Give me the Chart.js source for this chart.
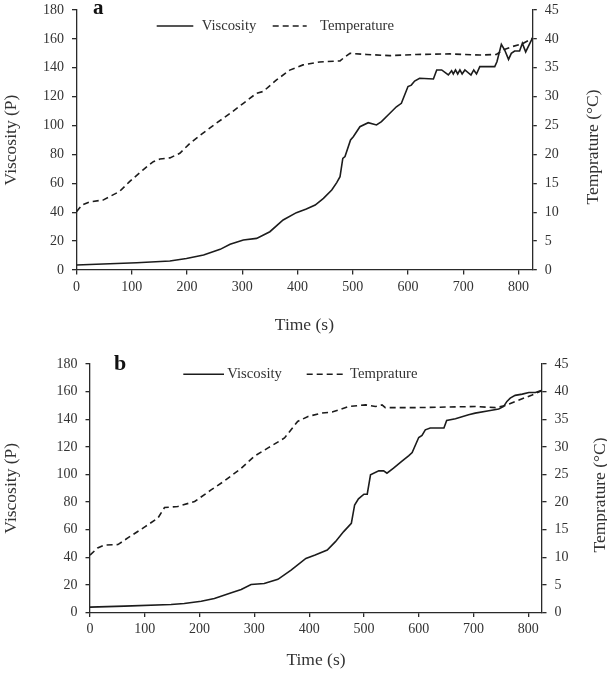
<!DOCTYPE html>
<html><head><meta charset="utf-8">
<script src="https://cdn.jsdelivr.net/npm/chart.js@4.4.1/dist/chart.umd.min.js"></script>
<style>html,body{margin:0;padding:0;background:#fff;overflow:hidden;width:607px;height:674px}
canvas{position:absolute;left:0}</style></head>
<body>
<canvas id="ca" width="607" height="348" style="top:-8px;width:607px;height:348px"></canvas>
<canvas id="cb" width="607" height="334" style="top:340px;width:607px;height:334px"></canvas>
<script>
// ---- Data ----
const timeViscA = [0,48,109,169,199,230,260,278,302,326,350,374,398,416,432,447,462,471,477,482,486,496,501,513,528,543,552,564,579,588,600,606,612,621,646,652,661,673,679,682,686,690,694,698,703,714,719,724,730,757,761,769,775,782,787,793,802,807,813,825];
const viscA = [3.5,4.2,5,6.2,8,10.4,14.3,17.8,20.8,21.9,26.5,34.6,39.7,42.2,45,49.6,55.4,60.5,64.6,77.3,78.5,90,92.3,99.2,102,100.4,102.7,107.3,113,115.4,127,128,130.8,132.7,132.2,138.5,138.5,135,138,135.7,138.5,135.7,138.5,135.7,138.5,135,138.5,135.7,140.8,140.8,144.2,156.2,152.3,145.8,150,151.6,151.6,157,151,160.4];
const timeTempA = [0,10,24,48,78,96,120,139,151,169,187,205,229,253,278,302,326,338,362,386,410,440,477,486,495,525,567,615,676,730,760,772,790,808,825];
const tempA = [10.1,11.25,11.8,12.1,13.6,15.3,17.3,18.75,19.2,19.4,20.2,21.9,23.7,25.4,27.1,28.85,30.6,30.9,32.9,34.6,35.5,36.0,36.2,36.9,37.5,37.3,37.1,37.3,37.4,37.2,37.3,38.1,38.7,39.2,40.1];

const timeViscB = [0,63,148,172,203,227,258,276,294,318,343,367,394,411,433,448,463,477,483,490,500,506,512,527,536,542,554,570,582,588,600,606,612,621,646,651,667,691,703,728,746,755,761,767,776,789,801,813,825];
const viscB = [3.9,4.6,5.8,6.5,8.2,10.2,14.3,16.7,20.3,21,24,30.7,39.2,41.6,45.2,51.3,58.6,64.6,77.9,82.3,85.7,85.7,99.7,102.6,102.6,100.9,104.5,109.8,113.7,115.9,126.8,128.2,132.3,133.6,133.6,139.1,140.3,143.2,144.4,146.1,147.4,149.3,152.9,155.3,157.3,158.2,159.4,159.4,160.9];
const timeTempB = [0,14,26,51,69,100,124,136,160,191,221,245,276,300,325,355,379,398,422,442,472,503,521,533,539,594,703,740,758,776,807,825];
const tempB = [10.4,11.7,12.2,12.3,13.5,15.5,17.1,19.0,19.2,20.1,22.2,23.8,26.1,28.3,29.8,31.6,34.6,35.5,36.1,36.3,37.3,37.6,37.3,37.6,37.1,37.1,37.3,37.1,37.5,38.2,39.4,40.2];

const timeTicks = [0,100,200,300,400,500,600,700,800];
const viscTicks = [0,20,40,60,80,100,120,140,160,180];
const tempTicks = [0,5,10,15,20,25,30,35,40,45];

const labelsA = {panel:'a', visc:'Viscosity', temp:'Temperature'};
const labelsB = {panel:'b', visc:'Viscosity', temp:'Temprature'};
const xTitle = 'Time (s)', yTitle = 'Viscosity (P)', y2Title = 'Temprature (°C)';

// ---- Rendering ----
const FONT = "'Liberation Serif','Times New Roman',serif";
const TXT = '#333';
const LINE = '#1c1c1c';
const AX = '#2a2a2a';

function pts(xs, ys){ return xs.map((x,i)=>({x:x, y:ys[i]})); }

function makeChart(id, geo, labels, tV, vV, tT, vT){
  const overlay = {
    id:'overlay',
    afterDraw(chart){
      const ctx = chart.ctx;
      ctx.save();
      ctx.fillStyle = '#111';
      ctx.font = "bold " + geo.letterSize + "px " + FONT;
      ctx.textAlign = 'left'; ctx.textBaseline = 'alphabetic';
      ctx.fillText(labels.panel, geo.letterX, geo.letterY);
      ctx.strokeStyle = LINE; ctx.lineWidth = 1.6;
      ctx.beginPath(); ctx.moveTo(geo.lg[0], geo.lgY); ctx.lineTo(geo.lg[1], geo.lgY); ctx.stroke();
      ctx.setLineDash([6,4]);
      ctx.beginPath(); ctx.moveTo(geo.lg[3], geo.lgY); ctx.lineTo(geo.lg[4], geo.lgY); ctx.stroke();
      ctx.setLineDash([]);
      ctx.fillStyle = TXT;
      ctx.font = "14.7px " + FONT;
      ctx.textBaseline = 'middle';
      ctx.fillText(labels.visc, geo.lg[2], geo.lgY);
      ctx.fillText(labels.temp, geo.lg[5], geo.lgY);
      ctx.font = "17.5px " + FONT;
      ctx.translate(geo.rtX, geo.rtY);
      ctx.rotate(-Math.PI/2);
      ctx.textAlign = 'center'; ctx.textBaseline = 'middle';
      ctx.fillText(y2Title, 0, 0);
      ctx.restore();
    }
  };
  const tickFont = {family: FONT, size: 14};
  return new Chart(document.getElementById(id), {
    type: 'line',
    data: {
      datasets: [
        {label: labels.visc, data: pts(tV, vV), yAxisID: 'y', borderColor: LINE, borderWidth: 1.6, pointRadius: 0, tension: 0, fill: false},
        {label: labels.temp, data: pts(tT, vT), yAxisID: 'y2', borderColor: LINE, borderWidth: 1.6, borderDash: [6,4], pointRadius: 0, tension: 0, fill: false}
      ]
    },
    options: {
      responsive: false, animation: false, devicePixelRatio: 1,
      layout: {padding: {top: geo.top, left: 0, right: 0, bottom: 0}},
      plugins: {legend: {display: false}, tooltip: {enabled: false}},
      scales: {
        x: {
          type: 'linear', min: 0, max: 825,
          afterBuildTicks: s => { s.ticks = timeTicks.map(v=>({value:v})); },
          afterFit: s => { s.height = geo.xH; },
          grid: {drawOnChartArea: false, drawTicks: true, tickLength: 4.5, color: AX, tickColor: AX, lineWidth: 1.3},
          border: {display: true, color: AX, width: 1.3},
          ticks: {font: tickFont, color: TXT, padding: 4, maxRotation: 0, autoSkip: false},
          title: {display: true, text: xTitle, font: {family: FONT, size: 17.5}, color: TXT, padding: {top: 0, bottom: geo.xTitlePad}}
        },
        y: {
          type: 'linear', position: 'left', min: 0, max: 180,
          afterBuildTicks: s => { s.ticks = viscTicks.map(v=>({value:v})); },
          afterFit: s => { s.width = geo.left; },
          grid: {drawOnChartArea: false, drawTicks: true, tickLength: 4.5, color: AX, tickColor: AX, lineWidth: 1.3},
          border: {display: true, color: AX, width: 1.3},
          ticks: {font: tickFont, color: TXT, padding: 8},
          title: {display: true, text: yTitle, font: {family: FONT, size: 17.5}, color: TXT, padding: {top: geo.yTitlePad, bottom: 0}}
        },
        y2: {
          type: 'linear', position: 'right', min: 0, max: 45,
          afterBuildTicks: s => { s.ticks = tempTicks.map(v=>({value:v})); },
          afterFit: s => { s.width = 607 - geo.right; },
          grid: {drawOnChartArea: false, drawTicks: true, tickLength: 4.5, color: AX, tickColor: AX, lineWidth: 1.3},
          border: {display: true, color: AX, width: 1.3},
          ticks: {font: tickFont, color: TXT, padding: 8}
        }
      }
    },
    plugins: [overlay]
  });
}

// canvas a is shifted up by 8px, so its coordinates are page y + 8
makeChart('ca', {top: 18, left: 76.5, right: 532.3, xH: 70, xTitlePad: 4.5, yTitlePad: 0.5,
  letterSize: 21, letterX: 93, letterY: 21.5,
  lgY: 34, lg: [156.7, 193.3, 201.7, 272.7, 306.7, 320],
  rtX: 593, rtY: 155}, labelsA, timeViscA, viscA, timeTempA, tempA);

makeChart('cb', {top: 24, left: 90, right: 542, xH: 61.5, xTitlePad: 3.5, yTitlePad: 1,
  letterSize: 22, letterX: 114, letterY: 30,
  lgY: 34.3, lg: [183.3, 224, 227.3, 306.7, 343.3, 350],
  rtX: 600, rtY: 155}, labelsB, timeViscB, viscB, timeTempB, tempB);
</script>
</body></html>
